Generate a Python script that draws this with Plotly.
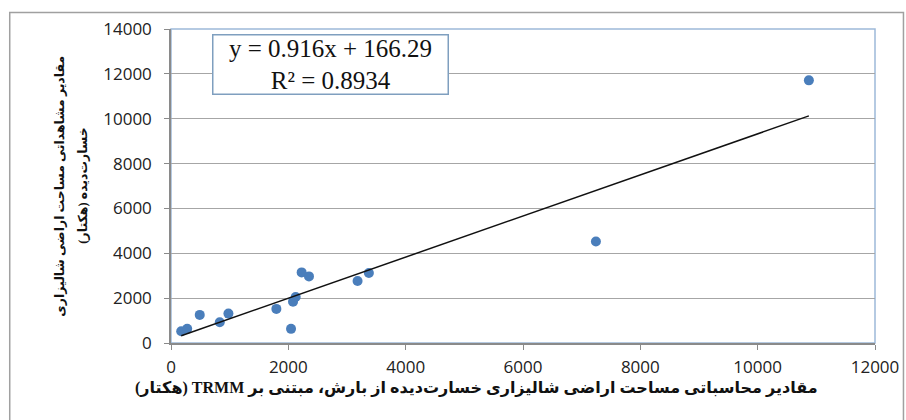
import plotly.graph_objects as go

# data
x_calc = [174, 276, 490, 831, 979, 1796, 2046, 2080, 2125, 2227, 2352, 3180, 3373, 7243, 10873]
y_obs = [524, 631, 1253, 924, 1311, 1520, 630, 1844, 2053, 3148, 2970, 2764, 3119, 4525, 11711]
slope = 0.916
intercept = 166.29
r2 = 0.8934
x_ticks = [0, 2000, 4000, 6000, 8000, 10000, 12000]
y_ticks = [0, 2000, 4000, 6000, 8000, 10000, 12000, 14000]

RLE, PDF = "\u202b", "\u202c"
x_title = RLE + "مقادیر محاسباتی مساحت اراضی شالیزاری خسارت‌دیده از بارش، مبتنی بر TRMM (هکتار)" + PDF
y_title_lines = [RLE + "مقادیر مشاهداتی مساحت اراضی شالیزاری" + PDF,
                 RLE + "خسارت‌دیده (هکتار)" + PDF]

W, H = 906, 420
L, R, T, B = 170.5, 875.5, 28.5, 343.5
pw, ph = R - L, B - T


def px(x):
    return (x - L) / pw


def py(y):
    return (B - y) / ph


tx = [min(x_calc), max(x_calc)]
ty = [slope * v + intercept for v in tx]

fig = go.Figure()
fig.add_trace(go.Scatter(x=x_calc, y=y_obs, mode="markers",
                         marker=dict(color="#4a7ebb", size=10), showlegend=False,
                         hoverinfo="x+y"))
fig.add_trace(go.Scatter(x=tx, y=ty, mode="lines",
                         line=dict(color="#111111", width=1.5), showlegend=False,
                         hoverinfo="skip"))

axis_common = dict(showline=True, linecolor="#8a8a8a", linewidth=1.5,
                   ticks="outside", ticklen=5, tickcolor="#8a8a8a",
                   zeroline=False, automargin=False,
                   tickfont=dict(family="Open Sans, Liberation Sans, sans-serif", size=17, color="#222222"))

title_font = dict(family="Liberation Serif, DejaVu Sans, serif", color="#111111", weight="bold")

annotations = [
    dict(xref="paper", yref="paper", x=px(330), y=py(64.3),
         text=f"y = {slope}x + {intercept}<br>R² = {r2}",
         showarrow=False, align="center",
         font=dict(family="Liberation Serif, serif", size=25, color="#111111"),
         bgcolor="white", bordercolor="#7f9fbf", borderwidth=1.5,
         borderpad=1, width=232, height=56, xanchor="center", yanchor="middle"),
    dict(xref="paper", yref="paper", x=px(476), y=py(389),
         text=x_title, showarrow=False, font=dict(size=16, **title_font),
         xanchor="center", yanchor="middle"),
]
for xpos, line in zip([59, 82], y_title_lines):
    annotations.append(dict(xref="paper", yref="paper", x=px(xpos), y=py(186),
                            text=line, showarrow=False, textangle=-90,
                            font=dict(size=12.5, **title_font),
                            xanchor="center", yanchor="middle"))

fig.update_layout(
    width=W, height=H,
    margin=dict(l=L, r=W - R, t=T, b=H - B, autoexpand=False),
    paper_bgcolor="white", plot_bgcolor="white",
    xaxis=dict(range=[0, 12000], tickvals=x_ticks, ticktext=[str(v) for v in x_ticks],
               showgrid=False, ticklabelstandoff=3, **axis_common),
    yaxis=dict(range=[0, 14000], tickvals=y_ticks, ticktext=[str(v) for v in y_ticks],
               showgrid=True, gridcolor="#a6a6a6", gridwidth=1, ticklabelstandoff=9,
               **axis_common),
    shapes=[
        # outer chart border
        dict(type="rect", xref="paper", yref="paper",
             x0=px(9), x1=px(904), y0=py(430), y1=py(12),
             line=dict(color="#a0a0a0", width=1.5), layer="below"),
        # plot area border (blue)
        dict(type="rect", xref="paper", yref="paper", x0=0, x1=1, y0=0, y1=1,
             line=dict(color="#9db9d9", width=1.5), layer="below"),
    ],
    annotations=annotations,
)

fig.write_html("out.html")
